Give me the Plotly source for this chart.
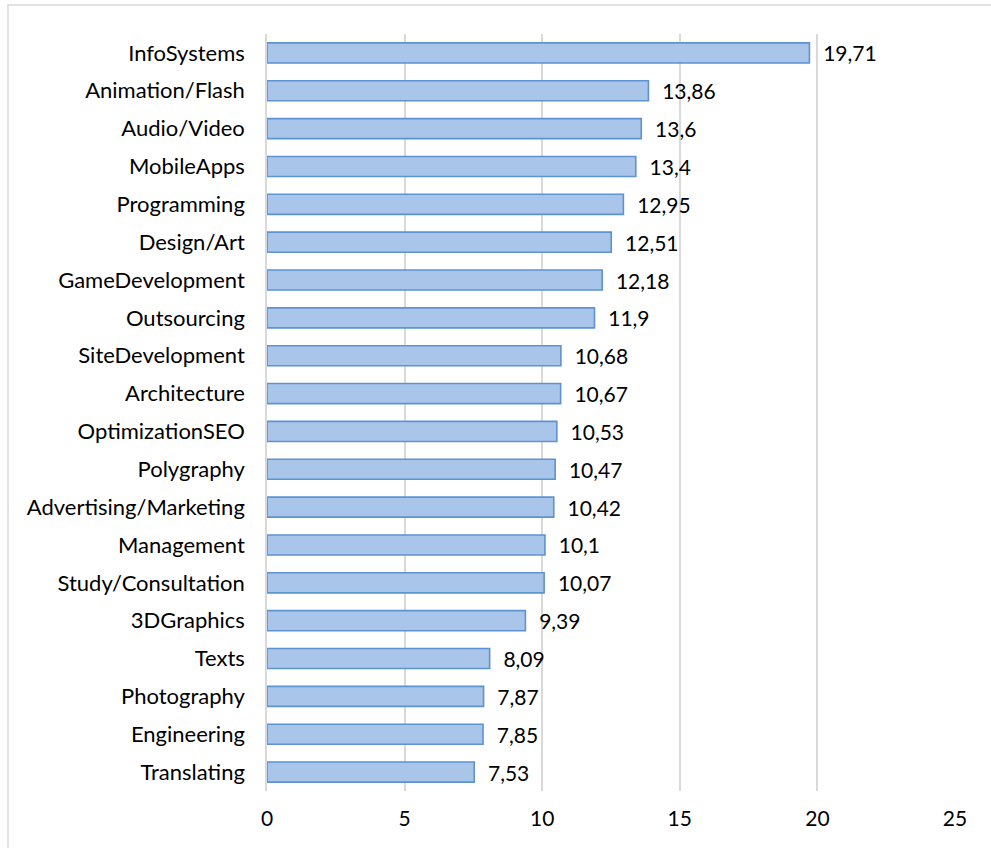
import plotly.graph_objects as go

categories = [
    "InfoSystems", "Animation/Flash", "Audio/Video", "MobileApps", "Programming",
    "Design/Art", "GameDevelopment", "Outsourcing", "SiteDevelopment", "Architecture",
    "OptimizationSEO", "Polygraphy", "Advertising/Marketing", "Management",
    "Study/Consultation", "3DGraphics", "Texts", "Photography", "Engineering", "Translating",
]
values = [19.71, 13.86, 13.6, 13.4, 12.95, 12.51, 12.18, 11.9, 10.68, 10.67,
          10.53, 10.47, 10.42, 10.1, 10.07, 9.39, 8.09, 7.87, 7.85, 7.53]
x_ticks = [0, 5, 10, 15, 20, 25]

# decimal comma labels, padded away from the bar ends
labels = ["\u00a0\u00a0" + f"{v:g}".replace(".", ",") for v in values]

W, H = 991, 848
ml, mr, mt, mb = 267, 36, 34, 57
font = "Lato, 'Open Sans', sans-serif"
fsize = 21

fig = go.Figure(go.Bar(
    x=values,
    y=categories,
    orientation="h",
    text=labels,
    textposition="outside",
    constraintext="none",
    cliponaxis=False,
    textfont=dict(family=font, size=fsize, color="#000000"),
    marker=dict(color="#a9c5ea", line=dict(color="#5b93d3", width=1.6)),
    width=0.53,
))

# light frame around the whole chart
pw, ph = W - ml - mr, H - mt - mb
fig.add_shape(
    type="rect", xref="paper", yref="paper",
    x0=(8 - ml) / pw, x1=(W + 5 - ml) / pw,
    y0=-(H + 5 - mt - ph) / ph, y1=1 + (mt - 5) / ph,
    line=dict(color="#d9d9d9", width=1.5), fillcolor="rgba(0,0,0,0)", layer="below",
)

fig.update_layout(
    width=W, height=H,
    margin=dict(l=ml, r=mr, t=mt, b=mb),
    paper_bgcolor="white", plot_bgcolor="white",
    showlegend=False,
    bargap=0.47,
    font=dict(family=font, size=fsize, color="#000000"),
    xaxis=dict(
        range=[0, 25], tickvals=x_ticks, showgrid=True, gridcolor="#d9d9d9", gridwidth=1.5,
        zeroline=False, showline=False, ticks="", ticklabelstandoff=13,
        tickfont=dict(family=font, size=fsize, color="#000000"),
    ),
    yaxis=dict(
        autorange="reversed", showgrid=False, zeroline=False,
        showline=True, linecolor="#d9d9d9", linewidth=1.5, ticks="",
        ticklabelstandoff=16,
        tickfont=dict(family=font, size=22, color="#000000"),
    ),
)

fig.write_html("out.html")
